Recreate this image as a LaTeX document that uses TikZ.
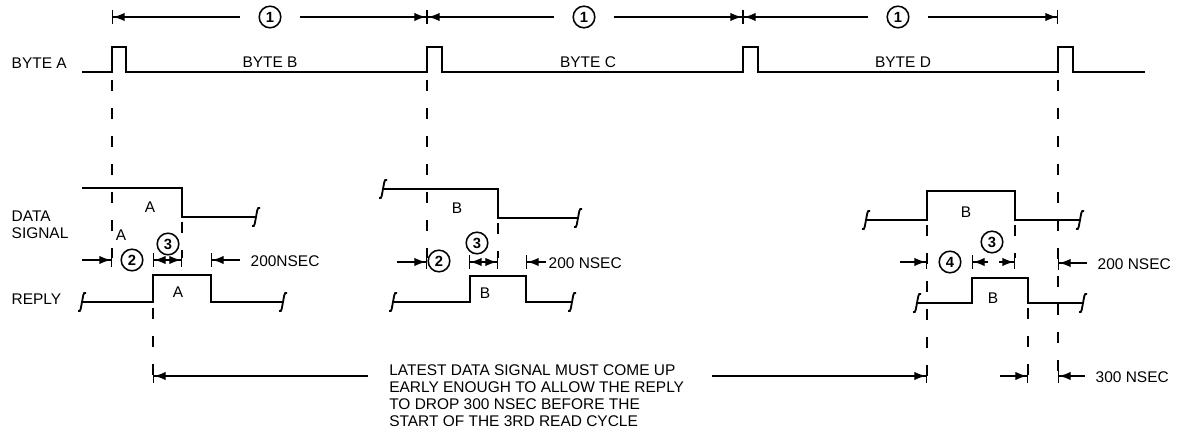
\documentclass[tikz,border=0pt]{standalone}
\usepackage{fontspec}
\setmainfont{Liberation Sans}
\usetikzlibrary{arrows.meta}

\begin{document}
\begin{tikzpicture}[
  x=0.25mm, y=-0.25mm,
  wave/.style={line width=1.3pt, line join=miter},
  dimline/.style={line width=0.8pt},
  guide/.style={line width=1pt, dash pattern=on 2.8mm off 4.2mm},
  tobar/.style={dimline, -{Latex[length=2.8mm,width=2.1mm]Bar[width=3.4mm,line width=1pt]}},
  frombar/.style={dimline, {Bar[width=3.4mm,line width=1pt]Latex[length=2.8mm,width=2.1mm]}-},
  bothbar/.style={dimline, {Bar[width=3.4mm,line width=1pt]Latex[length=2.8mm,width=2.1mm]}-{Latex[length=2.8mm,width=2.1mm]Bar[width=3.4mm,line width=1pt]}},
  num/.style={draw, circle, line width=1.1pt, minimum size=5.4mm, inner sep=0pt, font=\fontsize{10.5}{10.5}\selectfont\bfseries},
  lbl/.style={font=\fontsize{11}{12}\selectfont, inner sep=1pt},
  brk/.pic={\draw[wave] (-4,9) .. controls (-1,11) and (-1,4) .. (0,0) .. controls (1,-4) and (1,-11) .. (4,-9);}
]
  \useasboundingbox (0,0) rectangle (1178,440);

  % read cycle marks
  \coordinate (m1) at (112,17);
  \coordinate (m2) at (427,17);
  \coordinate (m3) at (743,17);
  \coordinate (m4) at (1058,17);
  \node[num] (c1) at (270,17) {1};
  \node[num] (c2) at (584,17) {1};
  \node[num] (c3) at (898,17) {1};
  \draw[frombar, shorten >=4.5mm] (m1) -- (c1);
  \draw[tobar, shorten <=4.5mm] (c1) -- (m2);
  \draw[frombar, shorten >=4.5mm] (m2) -- (c2);
  \draw[tobar, shorten <=4.5mm] (c2) -- (m3);
  \draw[frombar, shorten >=4.5mm] (m3) -- (c3);
  \draw[tobar, shorten <=4.5mm] (c3) -- (m4);

  % byte strobe
  \node[lbl, anchor=west] (byteA) at (10,63) {BYTE A};
  \draw[wave] (82,72) -- (112,72) -- (112,47) -- (126,47) -- (126,72)
    -- (427,72) -- (427,47) -- (442,47) -- (442,72)
    -- (743,72) -- (743,47) -- (758,47) -- (758,72)
    -- (1058,72) -- (1058,47) -- (1073,47) -- (1073,72) -- (1145,72);
  \node[lbl] (byteB) at (270,62) {BYTE B};
  \node[lbl] (byteC) at (588,62) {BYTE C};
  \node[lbl] (byteD) at (903,62) {BYTE D};

  % data signal
  \node[lbl, anchor=west, align=left] (data) at (10,225) {DATA\\SIGNAL};
  \draw[wave] (82,188) -- (182,188) -- (182,217) -- (256,217);
  \pic at (256,217) {brk};
  \node[lbl] (dA) at (150,207) {A};
  \node[lbl] (dA2) at (121,235) {A};
  \pic at (383,189) {brk};
  \draw[wave] (383,189) -- (498,189) -- (498,218) -- (578,218);
  \pic at (578,218) {brk};
  \node[lbl] (dB) at (457,208) {B};
  \pic at (866,220) {brk};
  \draw[wave] (866,220) -- (927,220) -- (927,191) -- (1015,191) -- (1015,220) -- (1080,220);
  \pic at (1080,220) {brk};
  \node[lbl] (dB2) at (966,212) {B};

  % reply
  \node[lbl, anchor=west] (reply) at (10,299) {REPLY};
  \pic at (82,302) {brk};
  \draw[wave] (82,302) -- (153,302) -- (153,275) -- (211,275) -- (211,302) -- (283,302);
  \pic at (283,302) {brk};
  \node[lbl] (rA) at (178,292) {A};
  \pic at (393,302) {brk};
  \draw[wave] (393,302) -- (470,302) -- (470,276) -- (526,276) -- (526,302) -- (572,302);
  \pic at (572,302) {brk};
  \node[lbl] (rB) at (485,293) {B};
  \pic at (917,303) {brk};
  \draw[wave] (917,303) -- (972,303) -- (972,278) -- (1028,278) -- (1028,303) -- (1083,303);
  \pic at (1083,303) {brk};
  \node[lbl] (rB2) at (993,298) {B};

  % guide lines
  \draw[guide] (112,80) -- (112,258);
  \draw[guide] (427,80) -- (427,258);
  \draw[guide] (1058,80) -- (1058,382);
  \draw[guide] (182,222) -- (182,258);
  \draw[guide] (498,223) -- (498,258);
  \draw[guide] (927,225) -- (927,382);
  \draw[guide] (1015,225) -- (1015,258);
  \draw[guide] (153,308) -- (153,382);
  \draw[guide] (1028,308) -- (1028,382);

  % timing dimensions
  \node[num] (n2a) at (132,260) {2};
  \node[num] (n3a) at (168,244) {3};
  \draw[tobar] (82,260) -- (112,260);
  \draw[bothbar] (153,260) -- (182,260);
  \draw[frombar] (211,260) -- (240,260);
  \node[lbl, anchor=west] (t200a) at (249,261) {200NSEC};

  \node[num] (n2b) at (439,261) {2};
  \node[num] (n3b) at (477,243) {3};
  \draw[tobar] (397,262) -- (427,262);
  \draw[bothbar] (469,262) -- (498,262);
  \draw[frombar] (526,262) -- (546,262);
  \node[lbl, anchor=west] (t200b) at (547,263) {200 NSEC};

  \node[num] (n4) at (950,262) {4};
  \node[num] (n3c) at (992,242) {3};
  \draw[tobar] (900,262) -- (927,262);
  \draw[frombar] (972,262) -- (988,262);
  \draw[tobar] (999,262) -- (1015,262);
  \draw[frombar] (1058,263) -- (1087,263);
  \node[lbl, anchor=west] (t200c) at (1096,264) {200 NSEC};

  % latest data signal
  \node[font=\fontsize{11}{12.3}\selectfont, inner sep=0pt, anchor=north west, align=left] (note) at (389,364)
    {LATEST DATA SIGNAL MUST COME UP\\EARLY ENOUGH TO ALLOW THE REPLY\\TO DROP 300 NSEC BEFORE THE\\START OF THE 3RD READ CYCLE};
  \draw[frombar] (153,376) -- (368,376);
  \draw[tobar] (712,376) -- (927,376);
  \draw[tobar] (1000,376) -- (1028,376);
  \draw[frombar] (1058,376) -- (1085,376);
  \node[lbl, anchor=west] (t300) at (1094,377) {300 NSEC};
\end{tikzpicture}
\end{document}
